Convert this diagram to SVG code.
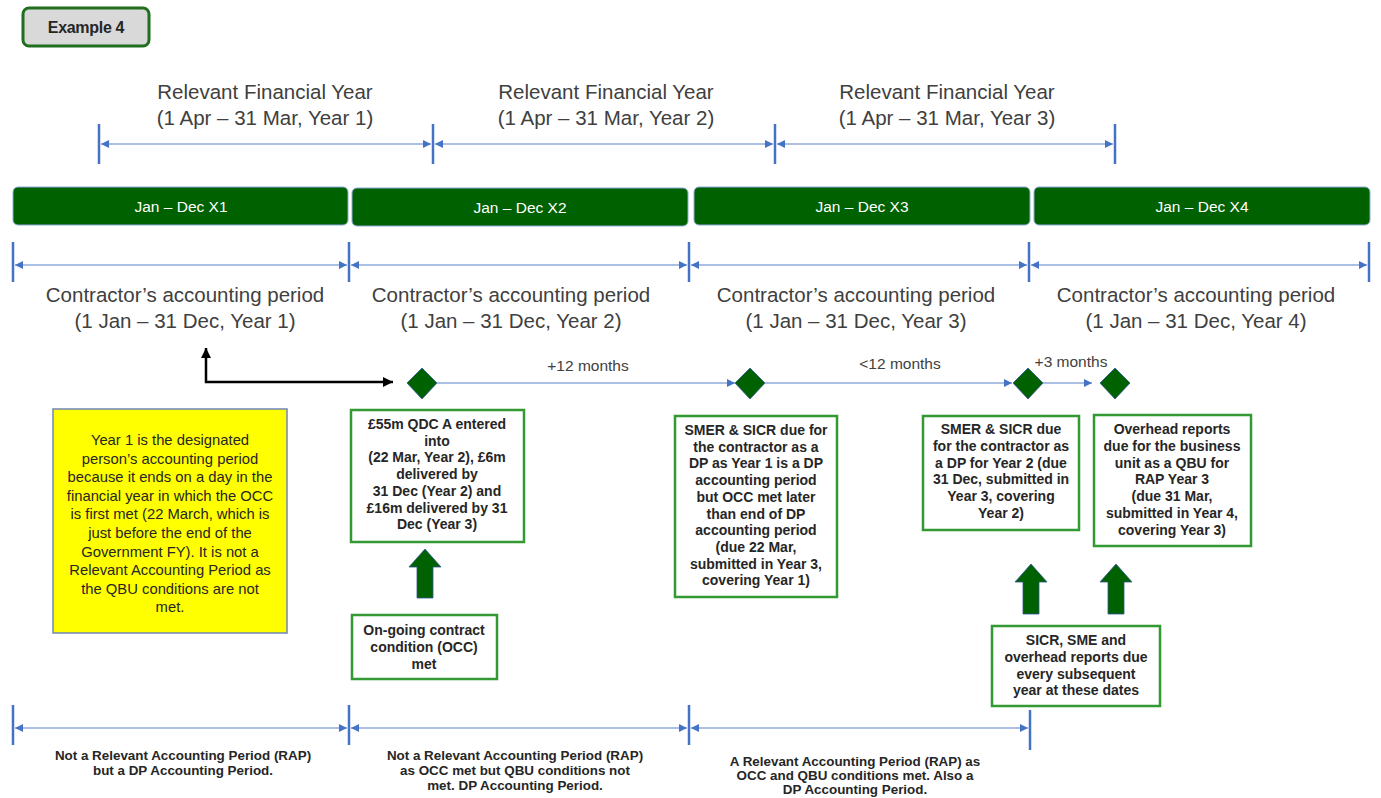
<svg xmlns="http://www.w3.org/2000/svg" width="1381" height="798" viewBox="0 0 1381 798">
<style>
.title{font-family:"Liberation Sans",Arial,sans-serif;font-size:20.5px;fill:#404040;text-anchor:middle}
.bar{fill:#006100;stroke:#8faadc;stroke-width:1}
.bartxt{font-family:"Liberation Sans",Arial,sans-serif;font-size:15.5px;fill:#ffffff;text-anchor:middle}
.tick{stroke:#4472c4;stroke-width:2.5}
.span{stroke:#8faadc;stroke-width:1.6;fill:none;marker-start:url(#ah);marker-end:url(#ah)}
.tl{stroke:#8faadc;stroke-width:1.6;fill:none;marker-end:url(#ah)}
.box{fill:#ffffff;stroke:#339933;stroke-width:2.5}
.btxt{font-family:"Liberation Sans",Arial,sans-serif;font-size:14px;font-weight:bold;fill:#262626;text-anchor:middle}
.ytxt{font-family:"Liberation Sans",Arial,sans-serif;font-size:14.8px;fill:#262626;text-anchor:middle}
.mtxt{font-family:"Liberation Sans",Arial,sans-serif;font-size:15.5px;fill:#404040;text-anchor:middle}
.dia{fill:#006100;stroke:#2f5597;stroke-width:0.8}
.big{fill:#006100;stroke:#2f5597;stroke-width:0.8}
.bot{font-family:"Liberation Sans",Arial,sans-serif;font-size:13.4px;font-weight:bold;fill:#262626;text-anchor:middle}
</style>
<defs>
<marker id="ah" viewBox="0 0 8 8" refX="8" refY="4" markerWidth="8" markerHeight="8" markerUnits="userSpaceOnUse" orient="auto-start-reverse">
<path d="M0,0 L8,4 L0,8 z" fill="#4472c4"/>
</marker>
<marker id="bk" viewBox="0 0 10 10" refX="10" refY="5" markerWidth="10" markerHeight="10" markerUnits="userSpaceOnUse" orient="auto-start-reverse">
<path d="M0,0 L10,5 L0,10 z" fill="#000000"/>
</marker>
</defs>
<rect width="1381" height="798" fill="#ffffff"/>

<g id="example">
<rect x="23" y="8" width="126" height="38" rx="6" fill="#d9d9d9" stroke="#1f6f1f" stroke-width="3"/>
<text x="86" y="33" font-family="Liberation Sans, Arial, sans-serif" font-size="16" font-weight="bold" fill="#262626" text-anchor="middle" letter-spacing="-0.3">Example 4</text>
</g>

<g id="financial-years">
<text class="title" x="265" y="99">Relevant Financial Year</text>
<text class="title" x="265" y="125">(1 Apr – 31 Mar, Year 1)</text>
<text class="title" x="606" y="99">Relevant Financial Year</text>
<text class="title" x="606" y="125">(1 Apr – 31 Mar, Year 2)</text>
<text class="title" x="947" y="99">Relevant Financial Year</text>
<text class="title" x="947" y="125">(1 Apr – 31 Mar, Year 3)</text>
</g>

<g id="bars">
<g id="bar-x1"><rect class="bar" x="13" y="187" width="335" height="38" rx="5"/><text class="bartxt" x="181" y="212">Jan – Dec X1</text></g>
<g id="bar-x2"><rect class="bar" x="352" y="188" width="336" height="38" rx="5"/><text class="bartxt" x="520" y="213">Jan – Dec X2</text></g>
<g id="bar-x3"><rect class="bar" x="694" y="187" width="336" height="38" rx="5"/><text class="bartxt" x="862" y="212">Jan – Dec X3</text></g>
<g id="bar-x4"><rect class="bar" x="1034" y="187" width="336" height="38" rx="5"/><text class="bartxt" x="1202" y="212">Jan – Dec X4</text></g>
</g>

<g id="contractor-periods">
<text class="title" x="185" y="302">Contractor’s accounting period</text>
<text class="title" x="185" y="328">(1 Jan – 31 Dec, Year 1)</text>
<text class="title" x="511" y="302">Contractor’s accounting period</text>
<text class="title" x="511" y="328">(1 Jan – 31 Dec, Year 2)</text>
<text class="title" x="856" y="302">Contractor’s accounting period</text>
<text class="title" x="856" y="328">(1 Jan – 31 Dec, Year 3)</text>
<text class="title" x="1196" y="302">Contractor’s accounting period</text>
<text class="title" x="1196" y="328">(1 Jan – 31 Dec, Year 4)</text>
</g>

<g id="yellow-note">
<rect x="53" y="409" width="234" height="224" fill="#ffff00" stroke="#6f86b8" stroke-width="1.5"/>
<text class="ytxt" x="170" y="445">Year 1 is the designated</text>
<text class="ytxt" x="170" y="463.6">person’s accounting period</text>
<text class="ytxt" x="170" y="482.2">because it ends on a day in the</text>
<text class="ytxt" x="170" y="500.8">financial year in which the OCC</text>
<text class="ytxt" x="170" y="519.4">is first met (22 March, which is</text>
<text class="ytxt" x="170" y="538">just before the end of the</text>
<text class="ytxt" x="170" y="556.6">Government  FY). It is not a</text>
<text class="ytxt" x="170" y="575.2">Relevant  Accounting Period as</text>
<text class="ytxt" x="170" y="593.8">the QBU conditions are not</text>
<text class="ytxt" x="170" y="612.4">met.</text>
</g>

<g id="milestones">
<polygon id="d1" class="dia" points="422,368 437,383 422,399 407,383"/>
<polygon id="d2" class="dia" points="750,368 765,383 750,399 735,383"/>
<polygon id="d3" class="dia" points="1028,368 1043,383 1028,399 1013,383"/>
<polygon id="d4" class="dia" points="1115,368 1130,383 1115,399 1100,383"/>
<text class="mtxt" x="588" y="371">+12 months</text>
<text class="mtxt" x="900" y="369">&lt;12 months</text>
<text class="mtxt" x="1071" y="367">+3 months</text>
</g>

<g id="box-qdc">
<rect class="box" x="351" y="410" width="173" height="132"/>
<text class="btxt" x="437" y="429">£55m  QDC A entered</text>
<text class="btxt" x="437" y="445.7">into</text>
<text class="btxt" x="437" y="462.4">(22 Mar, Year 2),  £6m</text>
<text class="btxt" x="437" y="479.1">delivered by</text>
<text class="btxt" x="437" y="495.8">31 Dec (Year 2) and</text>
<text class="btxt" x="437" y="512.5">£16m  delivered by 31</text>
<text class="btxt" x="437" y="529.2">Dec (Year 3)</text>
</g>

<g id="box-occ">
<rect class="box" x="352" y="615" width="145" height="64"/>
<text class="btxt" x="424" y="635">On-going contract</text>
<text class="btxt" x="424" y="652">condition (OCC)</text>
<text class="btxt" x="424" y="669">met</text>
</g>

<g id="box-smer1">
<rect class="box" x="675" y="416" width="162" height="181"/>
<text class="btxt" x="756" y="435">SMER &amp; SICR due for</text>
<text class="btxt" x="756" y="451.7">the contractor as a</text>
<text class="btxt" x="756" y="468.4">DP as Year 1 is a DP</text>
<text class="btxt" x="756" y="485.1">accounting period</text>
<text class="btxt" x="756" y="501.8">but OCC met later</text>
<text class="btxt" x="756" y="518.5">than end of DP</text>
<text class="btxt" x="756" y="535.2">accounting period</text>
<text class="btxt" x="756" y="551.9">(due 22 Mar,</text>
<text class="btxt" x="756" y="568.6">submitted in Year 3,</text>
<text class="btxt" x="756" y="585.3">covering Year 1)</text>
</g>

<g id="box-smer2">
<rect class="box" x="923" y="416" width="156" height="114"/>
<text class="btxt" x="1001" y="434">SMER &amp; SICR due</text>
<text class="btxt" x="1001" y="450.8">for the contractor as</text>
<text class="btxt" x="1001" y="467.6">a DP for Year 2 (due</text>
<text class="btxt" x="1001" y="484.4">31 Dec, submitted in</text>
<text class="btxt" x="1001" y="501.2">Year 3, covering</text>
<text class="btxt" x="1001" y="518">Year 2)</text>
</g>

<g id="box-overhead">
<rect class="box" x="1094" y="415" width="157" height="131"/>
<text class="btxt" x="1172" y="434">Overhead reports</text>
<text class="btxt" x="1172" y="450.8">due for the business</text>
<text class="btxt" x="1172" y="467.6">unit as a QBU for</text>
<text class="btxt" x="1172" y="484.4">RAP Year 3</text>
<text class="btxt" x="1172" y="501.2">(due 31 Mar,</text>
<text class="btxt" x="1172" y="518">submitted  in Year 4,</text>
<text class="btxt" x="1172" y="534.8">covering Year 3)</text>
</g>

<g id="box-sicr">
<rect class="box" x="992" y="626" width="168" height="80"/>
<text class="btxt" x="1076" y="645">SICR, SME and</text>
<text class="btxt" x="1076" y="661.8">overhead reports due</text>
<text class="btxt" x="1076" y="678.6">every subsequent</text>
<text class="btxt" x="1076" y="695.4">year at these dates</text>
</g>

<g id="bottom-labels">
<text class="bot" x="183" y="760">Not a Relevant Accounting  Period (RAP)</text>
<text class="bot" x="183" y="775">but a DP Accounting  Period.</text>
<text class="bot" x="515" y="760">Not a Relevant Accounting  Period (RAP)</text>
<text class="bot" x="515" y="775">as OCC met but QBU conditions  not</text>
<text class="bot" x="515" y="790">met. DP Accounting  Period.</text>
<text class="bot" x="855" y="766">A Relevant Accounting  Period (RAP) as</text>
<text class="bot" x="855" y="780">OCC and QBU conditions  met. Also a</text>
<text class="bot" x="855" y="794">DP Accounting  Period.</text>
</g>

<g id="connectors">
<line class="tick" x1="99" y1="124" x2="99" y2="164"/>
<line class="tick" x1="433" y1="124" x2="433" y2="164"/>
<line class="tick" x1="775" y1="124" x2="775" y2="164"/>
<line class="tick" x1="1115" y1="124" x2="1115" y2="164"/>
<line class="span" x1="101" y1="144" x2="431" y2="144"/>
<line class="span" x1="435" y1="144" x2="773" y2="144"/>
<line class="span" x1="777" y1="144" x2="1113" y2="144"/>
<line class="tick" x1="13" y1="242" x2="13" y2="282"/>
<line class="tick" x1="349" y1="242" x2="349" y2="282"/>
<line class="tick" x1="689" y1="242" x2="689" y2="282"/>
<line class="tick" x1="1029" y1="242" x2="1029" y2="282"/>
<line class="tick" x1="1369" y1="242" x2="1369" y2="282"/>
<line class="span" x1="15" y1="265" x2="347" y2="265"/>
<line class="span" x1="351" y1="265" x2="687" y2="265"/>
<line class="span" x1="691" y1="265" x2="1027" y2="265"/>
<line class="span" x1="1031" y1="265" x2="1367" y2="265"/>
<path d="M393,382 L206,382 L206,348" fill="none" stroke="#000000" stroke-width="2.5" marker-start="url(#bk)" marker-end="url(#bk)"/>
<line class="tl" x1="437" y1="383" x2="735" y2="383"/>
<line class="tl" x1="765" y1="383" x2="1012" y2="383"/>
<line class="tl" x1="1043" y1="383" x2="1092" y2="383"/>
<polygon class="big" points="425,549 441,567 433,567 433,598 417,598 417,567 409,567"/>
<polygon class="big" points="1031,564 1047,582 1039,582 1039,614 1023,614 1023,582 1015,582"/>
<polygon class="big" points="1116,564 1132,582 1124,582 1124,614 1108,614 1108,582 1100,582"/>
<line class="tick" x1="13" y1="705" x2="13" y2="745"/>
<line class="tick" x1="349" y1="705" x2="349" y2="745"/>
<line class="tick" x1="689" y1="705" x2="689" y2="745"/>
<line class="tick" x1="1030" y1="710" x2="1030" y2="750"/>
<line class="span" x1="15" y1="728" x2="347" y2="728"/>
<line class="span" x1="351" y1="728" x2="687" y2="728"/>
<line class="span" x1="691" y1="728" x2="1028" y2="728"/>
</g>
</svg>
